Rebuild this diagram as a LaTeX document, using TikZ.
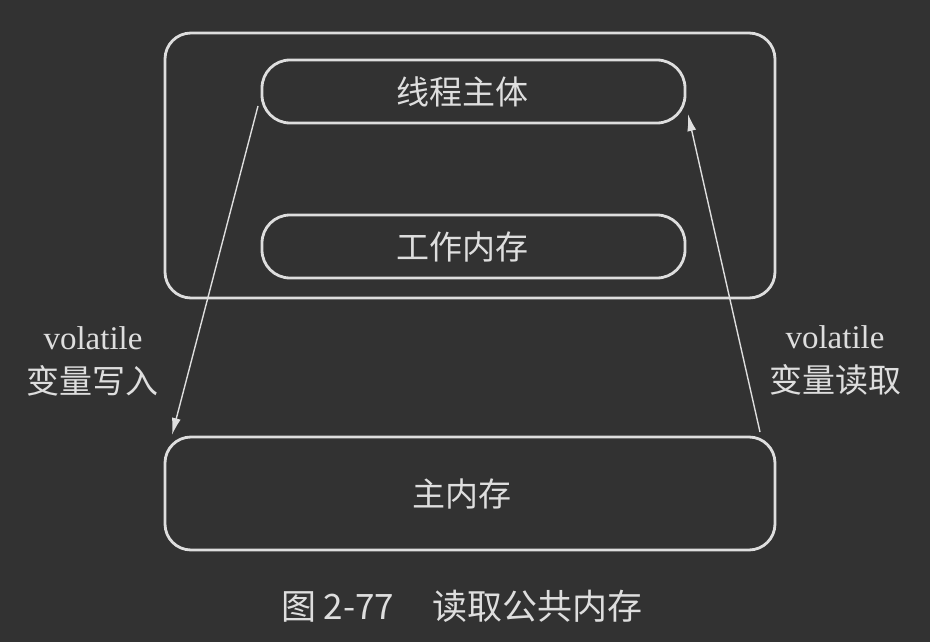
\documentclass[tikz,border=0pt]{standalone}
\usepackage{fontspec}
\setmainfont{Liberation Serif}
\newfontfamily\cjk{Noto Sans CJK SC}
\usetikzlibrary{arrows.meta}
\definecolor{bg}{HTML}{323232}
\definecolor{fg}{HTML}{DEDEDE}
\tikzset{
  box/.style={draw=fg, line width=2.8pt, rounded corners=26pt, text=fg, font=\cjk\fontsize{33}{38}\selectfont, inner sep=0pt},
  arr/.style={draw=fg, line width=1.4pt, -{Latex[length=17pt,width=9pt]}},
  lbl/.style={text=fg, font=\fontsize{33}{44}\selectfont, align=center, inner sep=0pt},
}
\begin{document}
\begin{tikzpicture}[x=1pt,y=-1pt]
\fill[bg] (0,0) rectangle (930,642);
\useasboundingbox (0,0) rectangle (930,642);
\node[box, minimum width=610pt, minimum height=265pt] (outer) at (470,165.5) {};
\node[box, minimum width=423pt, minimum height=63pt, rounded corners=28pt] (thread) at (473.5,91.5) {\hspace*{-22pt}线程主体};
\node[box, minimum width=423pt, minimum height=63pt, rounded corners=28pt] (work) at (473.5,246.5) {\hspace*{-22pt}工作内存};
\node[box, minimum width=610pt, minimum height=113pt] (main) at (470,493.5) {\hspace*{-16pt}主内存};
\coordinate (ls) at (258,106);
\coordinate (le) at (172,435);
\coordinate (rs) at (760,432);
\coordinate (re) at (688,114);
\draw[arr] (ls) -- (le);
\draw[arr] (rs) -- (re);
\node[lbl] (lw) at (93,361) {volatile\\{\cjk 变量写入}};
\node[lbl] (rw) at (835,360) {volatile\\{\cjk 变量读取}};
\node[text=fg, font=\cjk\fontsize{35}{40}\selectfont, inner sep=0pt] (cap) at (462,606) {图 2-77\hspace{1.1em}读取公共内存};
\end{tikzpicture}
\end{document}
